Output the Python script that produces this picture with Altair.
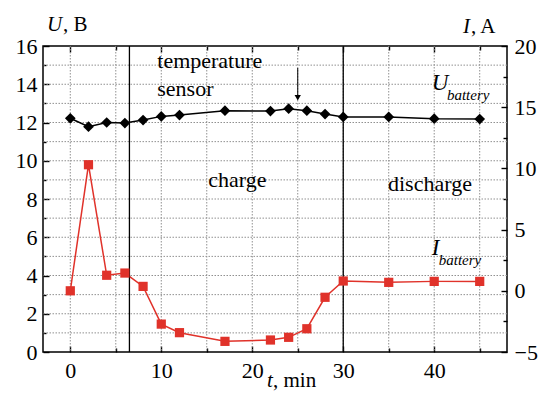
import altair as alt
import pandas as pd

# ---------------- data ----------------
t_min = [0, 2, 4, 6, 8, 10, 12, 17, 22, 24, 26, 28, 30, 35, 40, 45]
u_battery = [12.22, 11.78, 12.0, 11.97, 12.13, 12.32, 12.39, 12.62, 12.6, 12.72,
             12.62, 12.44, 12.29, 12.29, 12.2, 12.18]
i_battery = [0.0, 10.3, 1.27, 1.45, 0.36, -2.72, -3.42, -4.13, -4.02, -3.8,
             -3.1, -0.53, 0.8, 0.69, 0.77, 0.77]
mode_switch_t = [6.5, 30]

x_ticks_major = [0, 10, 20, 30, 40]
x_ticks_minor = [5, 15, 25, 35, 45]
x_grid = list(range(0, 50, 5))
u_ticks_major = list(range(0, 17, 2))
u_ticks_minor = list(range(1, 16, 2))
u_grid = list(range(1, 16))
i_ticks_major = [-5, 0, 5, 10, 15, 20]
i_ticks_minor = [-2.5, 2.5, 7.5, 12.5, 17.5]

note_text = ["temperature", "sensor", "charge", "discharge"]
note_t = [9.56, 9.56, 15.17, 34.92]
note_u = [14.85, 13.39, 8.64, 8.42]
sym_text = ["U", "I"]
sym_t = [39.72, 39.72]
sym_u = [13.70, 5.07]
sub_text = ["battery", "battery"]
sub_t = [41.4, 40.5]
sub_u = [13.18, 4.55]
arrow_t = [25]
arrow_from = [14.85]
arrow_to = [13.3]

# ---------------- setup ----------------
W, H = 464, 306
FONT = "Times New Roman"
RED = "#e0322a"
GRID = "#909090"
df = pd.DataFrame({"t": t_min, "U": u_battery, "I": i_battery})
xs = alt.Scale(domain=[-3, 48], nice=False, zero=False)
us = alt.Scale(domain=[0, 16], nice=False, zero=False)
iscale = alt.Scale(domain=[-5, 20], nice=False, zero=False)

def tick_axis(orient, offset, values, size):
    return alt.Axis(orient=orient, offset=offset, values=values, tickSize=size,
                    ticks=True, labels=False, domain=False, grid=False, title=None,
                    tickColor="black", tickWidth=1.4)

x_axis = alt.Axis(orient="bottom", values=x_ticks_major, grid=False, ticks=False,
                  domain=False, labelFontSize=22, labelPadding=8,
                  labelColor="black", labelFont=FONT, title=None, labelOverlap=False)
u_axis = alt.Axis(orient="left", values=u_ticks_major, grid=False, ticks=False,
                  domain=False, labelFontSize=22, labelPadding=6,
                  labelColor="black", labelFont=FONT, title=None, labelOverlap=False)
i_axis = alt.Axis(orient="right", values=i_ticks_major, grid=False, ticks=False,
                  domain=False, labelFontSize=22, labelPadding=7, labelColor="black",
                  labelFont=FONT, title=None, labelOverlap=False)

vgrid = alt.Chart(pd.DataFrame({"t": x_grid})).mark_rule(
    color=GRID, strokeWidth=1, strokeDash=[1.5, 1.5]
).encode(x=alt.X("t:Q", scale=xs, axis=None))
hgrid = alt.Chart(pd.DataFrame({"U": u_grid})).mark_rule(
    color=GRID, strokeWidth=1, strokeDash=[1.5, 1.5]
).encode(y=alt.Y("U:Q", scale=us, axis=None))

u_line = alt.Chart(df).mark_line(color="black", strokeWidth=1.5).encode(
    x=alt.X("t:Q", scale=xs, axis=x_axis),
    y=alt.Y("U:Q", scale=us, axis=u_axis),
)
i_line = alt.Chart(df).mark_line(color=RED, strokeWidth=1.5).encode(
    x=alt.X("t:Q", scale=xs, axis=None),
    y=alt.Y("I:Q", scale=iscale, axis=i_axis),
)

rules = alt.Chart(pd.DataFrame({"t": mode_switch_t})).mark_rule(color="black", strokeWidth=1.3).encode(
    x=alt.X("t:Q", scale=xs, axis=None)
)

i_pts = alt.Chart(df).mark_point(shape="square", filled=True, size=85, color=RED, opacity=1).encode(
    x=alt.X("t:Q", scale=xs, axis=None),
    y=alt.Y("I:Q", scale=iscale, axis=None),
)
u_pts = alt.Chart(df).mark_point(shape="diamond", filled=True, size=115, color="black", opacity=1).encode(
    x=alt.X("t:Q", scale=xs, axis=None),
    y=alt.Y("U:Q", scale=us, axis=None),
)

ticks1 = alt.Chart(df).mark_point(opacity=0).encode(
    x=alt.X("t:Q", scale=xs, axis=tick_axis("top", -H, x_ticks_major, 6)),
    y=alt.Y("U:Q", scale=us, axis=tick_axis("right", -W, u_ticks_major, 6)),
)
ticks2 = alt.Chart(df).mark_point(opacity=0).encode(
    x=alt.X("t:Q", scale=xs, axis=tick_axis("top", -H, x_ticks_minor, 4)),
    y=alt.Y("U:Q", scale=us, axis=tick_axis("right", -W, u_ticks_minor, 3)),
)
ticks3 = alt.Chart(df).mark_point(opacity=0).encode(
    x=alt.X("t:Q", scale=xs, axis=tick_axis("bottom", -H, x_ticks_major, 6)),
    y=alt.Y("I:Q", scale=iscale, axis=tick_axis("left", -W, i_ticks_major, 6)),
)
ticks4 = alt.Chart(df).mark_point(opacity=0).encode(
    x=alt.X("t:Q", scale=xs, axis=tick_axis("bottom", -H, x_ticks_minor, 4)),
    y=alt.Y("I:Q", scale=iscale, axis=tick_axis("left", -W, i_ticks_minor, 4)),
)

notes = alt.Chart(pd.DataFrame({"txt": note_text, "t": note_t, "U": note_u})).mark_text(
    font=FONT, fontSize=22, align="left", baseline="alphabetic", color="black"
).encode(
    x=alt.X("t:Q", scale=xs, axis=None),
    y=alt.Y("U:Q", scale=us, axis=None),
    text="txt:N",
)
syms = alt.Chart(pd.DataFrame({"txt": sym_text, "t": sym_t, "U": sym_u})).mark_text(
    font=FONT, fontSize=23, fontStyle="italic", align="left", baseline="alphabetic", color="black"
).encode(
    x=alt.X("t:Q", scale=xs, axis=None),
    y=alt.Y("U:Q", scale=us, axis=None),
    text="txt:N",
)
subs = alt.Chart(pd.DataFrame({"txt": sub_text, "t": sub_t, "U": sub_u})).mark_text(
    font=FONT, fontSize=15, fontStyle="italic", align="left", baseline="alphabetic", color="black"
).encode(
    x=alt.X("t:Q", scale=xs, axis=None),
    y=alt.Y("U:Q", scale=us, axis=None),
    text="txt:N",
)

arrow_df = pd.DataFrame({"t": arrow_t, "U0": arrow_from, "U1": arrow_to})
arrow_line = alt.Chart(arrow_df).mark_rule(color="black", strokeWidth=1).encode(
    x=alt.X("t:Q", scale=xs, axis=None),
    y=alt.Y("U0:Q", scale=us, axis=None),
    y2="U1:Q",
)
arrow_head = alt.Chart(arrow_df).mark_point(
    shape="triangle-down", filled=True, size=40, color="black", opacity=1
).encode(
    x=alt.X("t:Q", scale=xs, axis=None),
    y=alt.Y("U1:Q", scale=us, axis=None),
)

one = pd.DataFrame({"k": [0]})
def title_part(txt, px, py, italic):
    kw = dict(font=FONT, fontSize=21, align="left", baseline="alphabetic", color="black", text=txt)
    if italic:
        kw["fontStyle"] = "italic"
    return alt.Chart(one).mark_text(**kw).encode(x=alt.value(px), y=alt.value(py))

titles = [
    title_part("U", 4, -15, True),
    title_part(", B", 20, -15, False),
    title_part("I", 420, -13, True),
    title_part(", A", 428, -13, False),
    title_part("t", 224, 341, True),
    title_part(", min", 230, 341, False),
]

chart = alt.layer(
    vgrid, hgrid, u_line, i_line, rules, i_pts, u_pts, ticks1, ticks2, ticks3, ticks4,
    notes, syms, subs, arrow_line, arrow_head, *titles
).resolve_scale(x="independent", y="independent").resolve_axis(
    x="independent", y="independent"
).properties(
    width=W, height=H,
    autosize=alt.AutoSizeParams(type="none"),
    padding={"left": 43, "top": 46, "right": 34, "bottom": 51},
    background="white",
    view=alt.ViewBackground(stroke="black", strokeWidth=1.5),
)

chart.save("out.html", embed_options={"renderer": "svg", "actions": False})
